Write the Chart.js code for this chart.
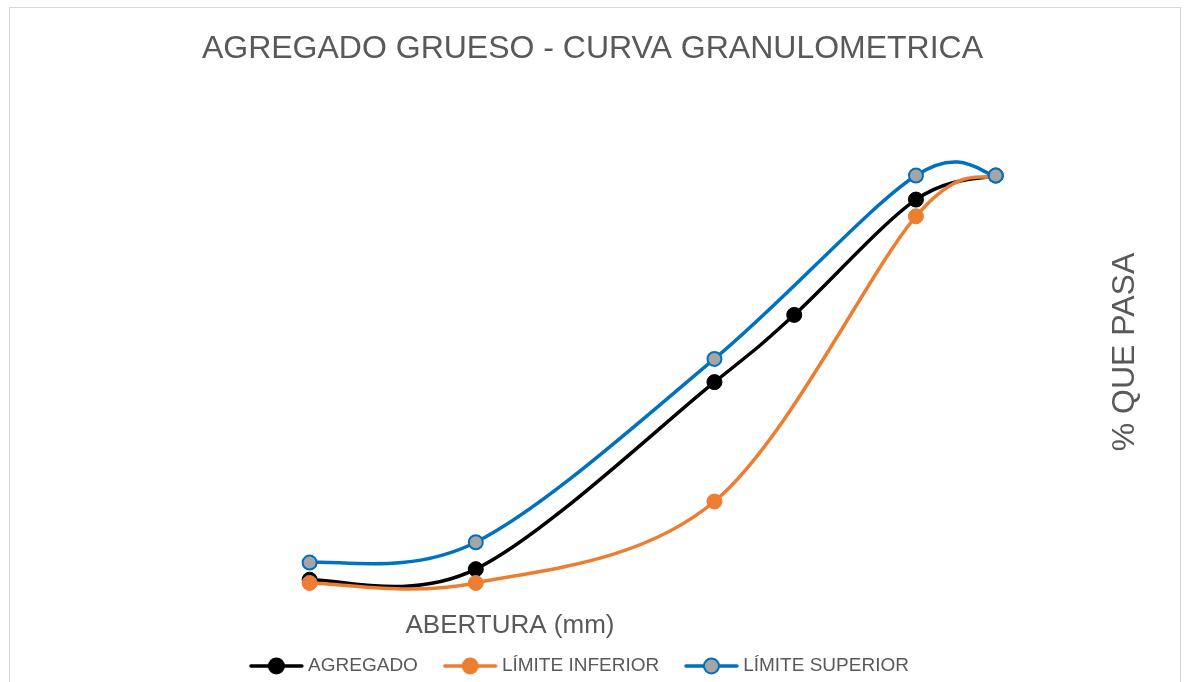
<!DOCTYPE html>
<html>
<head>
<meta charset="utf-8">
<script src="https://cdn.jsdelivr.net/npm/chart.js@4.4.1/dist/chart.umd.min.js"></script>
<style>
  html, body { margin: 0; padding: 0; background: #ffffff; }
  canvas { display: block; }
</style>
</head>
<body>
<canvas id="curva" width="1185" height="682"></canvas>
<script>
// Sieve openings (mm) and percent passing
const sieveSizes = [2.36, 4.18, 9.5, 12.5, 19, 25];
const agregadoPassing = [0.8, 3.4, 49.3, 65.8, 94.1, 100];

const limitSizes = [2.36, 4.18, 9.5, 19, 25];
const lowerLimit = [0, 0, 20, 90, 100];
const upperLimit = [5, 10, 55, 100, 100];

const seriesNames = ['AGREGADO', 'LÍMITE INFERIOR', 'LÍMITE SUPERIOR'];
const chartTitle = 'AGREGADO GRUESO - CURVA GRANULOMETRICA';
const xAxisTitle = 'ABERTURA (mm)';
const yAxisTitle = '% QUE PASA';

const TEXT_COLOR = '#595959';
const FONT = '"Liberation Sans", Arial, sans-serif';

function toPoints(xs, ys) {
  return xs.map((x, i) => ({ x: x, y: ys[i] }));
}

// Legend symbol: a short line with the series marker in its middle
function legendSwatch(lineColor, fill, border) {
  const c = document.createElement('canvas');
  c.width = 77; c.height = 18;
  const g = c.getContext('2d');
  g.strokeStyle = lineColor;
  g.lineWidth = 3.5;
  g.lineCap = 'round';
  g.beginPath(); g.moveTo(2, 9); g.lineTo(53, 9); g.stroke();
  g.beginPath(); g.arc(27.5, 9, 7.5, 0, Math.PI * 2);
  g.fillStyle = fill; g.fill();
  g.lineWidth = 2; g.strokeStyle = border; g.stroke();
  return c;
}

const swatches = [
  legendSwatch('#000000', '#000000', '#000000'),
  legendSwatch('#ED7D31', '#ED7D31', '#ED7D31'),
  legendSwatch('#0070C0', '#A5A5A5', '#0070C0')
];

// Smoothed line in the spreadsheet style: control points at 1/6 of the neighbour chord
const chordSmoothing = {
  id: 'chordSmoothing',
  beforeDatasetDraw(chart, args) {
    const meta = args.meta;
    const pts = meta.data;
    const n = pts.length;
    for (let i = 0; i < n; i++) {
      const p0 = pts[Math.max(i - 1, 0)];
      const p1 = pts[i];
      const p2 = pts[Math.min(i + 1, n - 1)];
      const dx = (p2.x - p0.x) / 6;
      const dy = (p2.y - p0.y) / 6;
      p1.cp1x = p1.x - dx; p1.cp1y = p1.y - dy;
      p1.cp2x = p1.x + dx; p1.cp2y = p1.y + dy;
    }
    if (meta.dataset) {
      meta.dataset._pointsUpdated = true;
      delete meta.dataset._path;
    }
  }
};

// Axis titles and outer frame
const frameAndTitles = {
  id: 'frameAndTitles',
  afterDraw(chart) {
    const ctx = chart.ctx;
    ctx.save();
    ctx.strokeStyle = '#D9D9D9';
    ctx.lineWidth = 1;
    ctx.strokeRect(9.5, 7.5, 1171, 700);

    ctx.fillStyle = TEXT_COLOR;
    ctx.textAlign = 'center';
    ctx.textBaseline = 'middle';
    ctx.font = '26px ' + FONT;
    ctx.fillText(xAxisTitle, 510, 626);

    ctx.translate(1125, 352);
    ctx.rotate(-Math.PI / 2);
    ctx.font = '32px ' + FONT;
    ctx.fillText(yAxisTitle, 0, 0);
    ctx.restore();
  }
};

const lineW = 3.5;

new Chart(document.getElementById('curva'), {
  type: 'scatter',
  data: {
    datasets: [
      {
        label: seriesNames[0],
        data: toPoints(sieveSizes, agregadoPassing),
        showLine: true,
        borderColor: '#000000',
        backgroundColor: '#000000',
        borderWidth: lineW,
        pointRadius: 7.5,
        pointBorderWidth: 1,
        pointBackgroundColor: '#000000',
        pointBorderColor: '#000000',
        tension: 0.4,
        order: 2
      },
      {
        label: seriesNames[1],
        data: toPoints(limitSizes, lowerLimit),
        showLine: true,
        borderColor: '#ED7D31',
        backgroundColor: '#ED7D31',
        borderWidth: lineW,
        pointRadius: 7.5,
        pointBorderWidth: 1,
        pointBackgroundColor: '#ED7D31',
        pointBorderColor: '#ED7D31',
        tension: 0.4,
        order: 1
      },
      {
        label: seriesNames[2],
        data: toPoints(limitSizes, upperLimit),
        showLine: true,
        borderColor: '#0070C0',
        backgroundColor: '#A5A5A5',
        borderWidth: lineW,
        pointRadius: 7,
        pointBorderWidth: 2,
        pointBackgroundColor: '#A5A5A5',
        pointBorderColor: '#0070C0',
        tension: 0.4,
        order: 0
      }
    ]
  },
  options: {
    responsive: false,
    devicePixelRatio: 1,
    animation: false,
    layout: { padding: { top: 0, bottom: -3.5, left: 60, right: 60 } },
    scales: {
      x: { type: 'logarithmic', min: 1, max: 39, display: false },
      y: { type: 'linear', min: -5.28, max: 122, display: false }
    },
    plugins: {
      title: {
        display: true,
        text: chartTitle,
        color: TEXT_COLOR,
        font: { family: FONT, size: 32, weight: 'normal' },
        padding: { top: 30, bottom: 17.5 }
      },
      legend: {
        display: true,
        position: 'bottom',
        labels: {
          usePointStyle: true,
          pointStyleWidth: 22.5,
          padding: 52,
          color: TEXT_COLOR,
          font: { family: FONT, size: 19 },
          sort: (a, b) => a.datasetIndex - b.datasetIndex,
          generateLabels(chart) {
            const items = Chart.defaults.plugins.legend.labels.generateLabels(chart);
            items.forEach((it) => { it.pointStyle = swatches[it.datasetIndex]; });
            return items;
          }
        }
      },
      tooltip: { enabled: false }
    }
  },
  plugins: [chordSmoothing, frameAndTitles]
});
</script>
</body>
</html>
